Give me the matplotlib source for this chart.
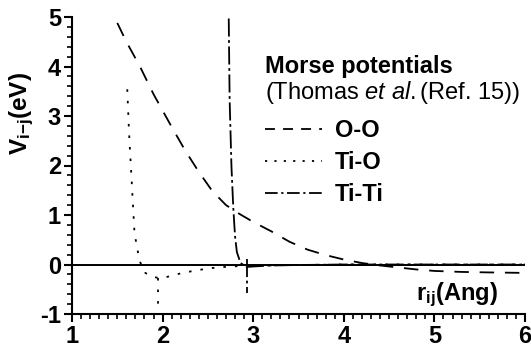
import numpy as np
import matplotlib
matplotlib.use("Agg")
import matplotlib.pyplot as plt
from matplotlib.lines import Line2D
from matplotlib.ticker import MultipleLocator

plt.rcParams["font.family"] = ["Liberation Sans", "DejaVu Sans"]
plt.rcParams["axes.unicode_minus"] = False
plt.rcParams["mathtext.fontset"] = "custom"
plt.rcParams["mathtext.rm"] = "Liberation Sans"
plt.rcParams["mathtext.it"] = "Liberation Sans:italic"
plt.rcParams["mathtext.bf"] = "Liberation Sans:bold"

# ── data (r in Angstrom, V in eV) ─────────────────────────────
r_oo = [1.50, 1.60, 1.75, 1.90, 2.10, 2.25, 2.40, 2.55, 2.70, 2.85, 3.00,
        3.20, 3.40, 3.60, 3.80, 4.00, 4.20, 4.40, 4.60, 4.80, 5.00, 5.30,
        5.60, 6.00]
v_oo = [4.88, 4.50, 4.00, 3.44, 2.78, 2.30, 1.87, 1.48, 1.20, 1.02, 0.86,
        0.67, 0.46, 0.30, 0.19, 0.10, 0.03, -0.02, -0.06, -0.10, -0.13, -0.15,
        -0.16, -0.17]

r_tio = [1.61, 1.63, 1.65, 1.67, 1.69, 1.72, 1.745, 1.78, 1.81, 1.87, 1.95,
         2.05, 2.15, 2.25, 2.40, 2.55, 2.75, 3.00, 3.50, 4.00, 5.00, 6.00]
v_tio = [3.54, 2.65, 1.98, 1.30, 0.63, 0.33, 0.08, -0.07, -0.17, -0.24, -0.27,
         -0.25, -0.20, -0.16, -0.11, -0.07, -0.04, -0.02, -0.01, 0.0, 0.0, 0.0]
r_tio_min = [1.95, 1.95]
v_tio_min = [-0.27, -0.86]

r_titi = [2.73, 2.74, 2.76, 2.78, 2.80, 2.82, 2.86, 2.93, 3.00, 3.20, 3.50,
          4.00, 5.00, 6.00]
v_titi = [4.97, 3.32, 1.98, 1.15, 0.56, 0.25, 0.03, -0.05, -0.04, -0.02,
          -0.01, 0.0, 0.0, 0.0]
r_titi_min = [2.93, 2.93]
v_titi_min = [0.12, -0.58]

labels = ["O-O", "Ti-O", "Ti-Ti"]

W, H = 531, 348
fig = plt.figure(figsize=(W / 100, H / 100), dpi=100)
ax = fig.add_axes([72 / W, 34 / H, 453 / W, 297 / H])

LW = 1.3
ls_oo = (0, (8, 6))
ls_tio = (0, (1.4, 5))
ls_titi = (0, (10, 2, 1.5, 2))

ax.axhline(0, color="black", lw=1.4)
ax.plot(r_oo, v_oo, color="black", lw=LW, ls=ls_oo)
ax.plot(r_tio, v_tio, color="black", lw=LW, ls=ls_tio)
ax.plot(r_tio_min, v_tio_min, color="black", lw=LW, ls=ls_tio)
ax.plot(r_titi, v_titi, color="black", lw=LW, ls=ls_titi)
ax.plot(r_titi_min, v_titi_min, color="black", lw=LW, ls=ls_titi)

ax.set_xlim(1, 6)
ax.set_ylim(-1, 5)
ax.spines["top"].set_visible(False)
ax.spines["right"].set_visible(False)
for s in ("left", "bottom"):
    ax.spines[s].set_linewidth(1.5)

ax.xaxis.set_major_locator(MultipleLocator(1))
ax.xaxis.set_minor_locator(MultipleLocator(0.1))
ax.yaxis.set_major_locator(MultipleLocator(1))
ax.yaxis.set_minor_locator(MultipleLocator(0.2))
ax.tick_params(which="major", direction="out", length=6, width=1.5,
               labelsize=17, pad=2)
ax.tick_params(which="minor", direction="out", length=3.5, width=1.2)
for lab in ax.get_xticklabels() + ax.get_yticklabels():
    lab.set_fontweight("bold")

ax.text(5.25, -0.62, r"$\mathbf{r_{ij}}$(Ang)", fontsize=17,
        fontweight="bold", ha="center", va="center")
fig.text(22 / W, 1 - 113 / H, r"$\mathbf{V_{i{-}j}}$(eV)", fontsize=17.5,
         fontweight="bold", rotation=90, ha="center", va="center")

fig.text(265 / W, 1 - 66 / H, "Morse potentials", fontsize=17,
         fontweight="bold", va="center")
fig.text(265 / W, 1 - 92 / H, r"(Thomas $\mathit{et\ al.}$(Ref. 15))",
         fontsize=17, va="center")

# legend samples are drawn shorter than the plotted patterns
handles = [Line2D([], [], color="black", lw=LW, ls=(0, (5.5, 4.5))),
           Line2D([], [], color="black", lw=LW, ls=(0, (1.2, 4))),
           Line2D([], [], color="black", lw=LW, ls=(0, (7, 2, 1.2, 2)))]
leg = ax.legend(handles, labels, loc="upper left",
                bbox_to_anchor=(265 / W, 1 - 119 / H),
                bbox_transform=fig.transFigure, frameon=False,
                borderpad=0, borderaxespad=0, handlelength=2.4,
                handletextpad=0.55, labelspacing=0.38,
                prop={"size": 17, "weight": "bold"})

fig.savefig("out.png", dpi=100)
